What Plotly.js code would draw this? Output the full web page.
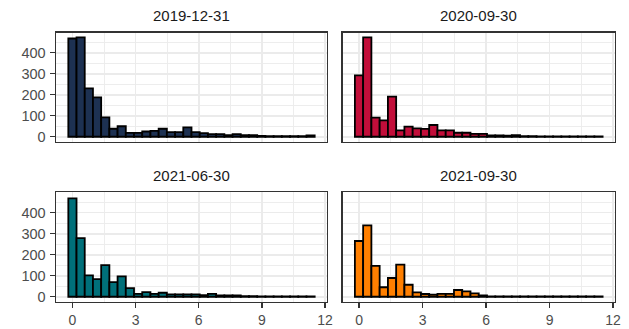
<!DOCTYPE html>
<html><head><meta charset="utf-8">
<script src="https://cdn.plot.ly/plotly-3.0.1.min.js"></script>
<style>html,body{margin:0;padding:0;background:#fff}</style>
</head><body><div id="chart" style="width:629px;height:329px"></div>
<script>
const panelTitles = ["2019-12-31", "2020-09-30", "2021-06-30", "2021-09-30"];
const binCenters = [0, 0.39, 0.78, 1.17, 1.56, 1.95, 2.34, 2.73, 3.12, 3.51, 3.90, 4.29, 4.68, 5.07, 5.46,
  5.85, 6.24, 6.63, 7.02, 7.41, 7.80, 8.19, 8.58, 8.97, 9.36, 9.75, 10.14, 10.53, 10.92, 11.31];
const binWidth = 0.39;
const counts20191231 = [468, 473, 230, 188, 92, 38, 50, 18, 18, 25, 28, 38, 22, 22, 45, 22, 17, 12, 12, 8, 12, 7, 7, 4, 3, 3, 3, 3, 3, 6];
const counts20200930 = [292, 473, 91, 78, 191, 30, 48, 40, 37, 56, 30, 30, 19, 19, 14, 14, 6, 6, 5, 8, 3, 3, 2, 2, 2, 2, 2, 2, 2, 2];
const counts20210630 = [468, 279, 102, 84, 150, 69, 97, 41, 14, 22, 14, 19, 11, 11, 11, 11, 8, 14, 6, 6, 6, 3, 3, 2, 2, 2, 2, 2, 2, 2];
const counts20210930 = [265, 339, 147, 45, 89, 153, 57, 21, 13, 10, 14, 14, 32, 25, 16, 6, 2, 2, 2, 2, 2, 2, 2, 2, 2, 2, 2, 2, 2, 2];
const fillColors = ["#1d3152", "#c20e3a", "#00707a", "#ff7f00"];
const xTickVals = [0, 3, 6, 9, 12];
const yTickVals = [0, 100, 200, 300, 400];

const series = [counts20191231, counts20200930, counts20210630, counts20210930];
const W = 629, H = 329;
const xDomains = [[56 / W, 327 / W], [342.5 / W, 615 / W]];
const yDomains = [[1 - 141.7 / H, 1 - 32.5 / H], [1 - 301.7 / H, 1 - 192.3 / H]];

const ymax = Math.max(...series.flat());
const yRange = [-0.05 * ymax, ymax * 1.05];
const xlo = binCenters[0] - binWidth / 2, xhi = binCenters[binCenters.length - 1] + binWidth / 2;
const xRange = [xlo - 0.05 * (xhi - xlo), xhi + 0.05 * (xhi - xlo)];

const traces = [];
const layout = {
  width: W, height: H, margin: {l: 0, r: 0, t: 0, b: 0},
  paper_bgcolor: "#ffffff", plot_bgcolor: "#ffffff", showlegend: false,
  font: {family: "Liberation Sans, Arial, sans-serif", color: "#4d4d4d", size: 14},
  annotations: []
};
series.forEach((vals, i) => {
  const row = Math.floor(i / 2), col = i % 2;
  const n = i + 1;
  const xa = "x" + (n === 1 ? "" : n), ya = "y" + (n === 1 ? "" : n);
  traces.push({
    type: "bar", x: binCenters, y: vals, width: binWidth,
    xaxis: xa, yaxis: ya,
    marker: {color: fillColors[i], line: {color: "#000000", width: 1.8}},
    hoverinfo: "x+y"
  });
  const bottom = row === 1, left = col === 0;
  layout["xaxis" + (n === 1 ? "" : n)] = {
    domain: xDomains[col], anchor: ya, range: xRange,
    tickvals: xTickVals, ticktext: xTickVals.map(String),
    showticklabels: bottom, ticks: bottom ? "outside" : "", ticklen: 5, tickwidth: 1.3, tickcolor: "#333333",
    ticklabelstandoff: 0,
    showgrid: true, gridcolor: "#ebebeb", gridwidth: 1.7,
    minor: {showgrid: true, gridcolor: "#ebebeb", gridwidth: 0.9, tickvals: [-1.5, 1.5, 4.5, 7.5, 10.5]},
    showline: true, mirror: true, linecolor: "#333333", linewidth: 1.4,
    zeroline: false, tickfont: {size: 14, color: "#4d4d4d"}
  };
  layout["yaxis" + (n === 1 ? "" : n)] = {
    domain: yDomains[row], anchor: xa, range: yRange,
    tickvals: yTickVals, ticktext: yTickVals.map(String),
    showticklabels: left, ticks: left ? "outside" : "", ticklen: 5, tickwidth: 1.3, tickcolor: "#333333",
    ticklabelstandoff: 1,
    showgrid: true, gridcolor: "#ebebeb", gridwidth: 1.7,
    minor: {showgrid: true, gridcolor: "#ebebeb", gridwidth: 0.9, tickvals: [50, 150, 250, 350, 450]},
    showline: true, mirror: true, linecolor: "#333333", linewidth: 1.4,
    zeroline: false, tickfont: {size: 14.5, color: "#4d4d4d"}
  };
  layout.annotations.push({
    text: panelTitles[i], xref: "paper", yref: "paper",
    x: (xDomains[col][0] + xDomains[col][1]) / 2, y: yDomains[row][1] + 17 / H,
    xanchor: "center", yanchor: "middle", showarrow: false,
    font: {size: 15, color: "#1a1a1a"}
  });
});
Plotly.newPlot("chart", traces, layout, {displayModeBar: false, staticPlot: true});
</script></body></html>
